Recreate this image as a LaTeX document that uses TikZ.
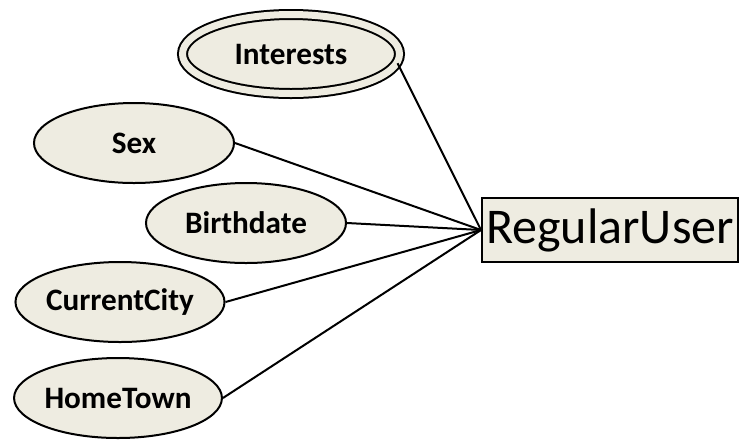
\documentclass[tikz,border=0pt]{standalone}
\usepackage{fontspec}
\setmainfont{Carlito}
\usetikzlibrary{shapes.geometric}
\definecolor{attrfill}{HTML}{EEECE1}

\begin{document}
\begin{tikzpicture}[x=0.5pt, y=-0.5pt, line width=1pt,
        every node/.append style={font=\fontsize{15.6}{18}\selectfont\bfseries}]
      \tikzstyle{attr} = [ellipse, draw, fill=attrfill, inner sep=0pt,
        minimum width=100pt, minimum height=40pt]
      \tikzstyle{entity} = [draw, fill=attrfill, rectangle, inner sep=0pt,
        minimum width=128pt, minimum height=32pt, font=\fontsize{25}{29}\selectfont]
      \tikzstyle{multi} = [attr, double=attrfill, double distance=3.5pt,
        minimum width=108.5pt, minimum height=39.5pt]
      \useasboundingbox (0,0) rectangle (744,441);
      \node (RegularUser) [entity] at (610,230) {RegularUser};
      \node (Interests) [multi] at (291,54) {Interests};
      \node (Sex) [attr] at (134,143) {Sex};
      \node (Birthdate) [attr] at (246,223) {Birthdate};
      \node (CurrentCity) [attr, minimum width=102pt] at (120,302) {CurrentCity};
      \node (HomeTown) [attr, minimum width=101pt] at (118,398) {HomeTown};
      \draw (Interests.-5) -- (RegularUser.west);
      \draw (Sex.east) -- (RegularUser.west);
      \draw (Birthdate.east) -- (RegularUser.west);
      \draw (CurrentCity.east) -- (RegularUser.west);
      \draw (HomeTown.east) -- (RegularUser.west);
    \end{tikzpicture}
\end{document}
